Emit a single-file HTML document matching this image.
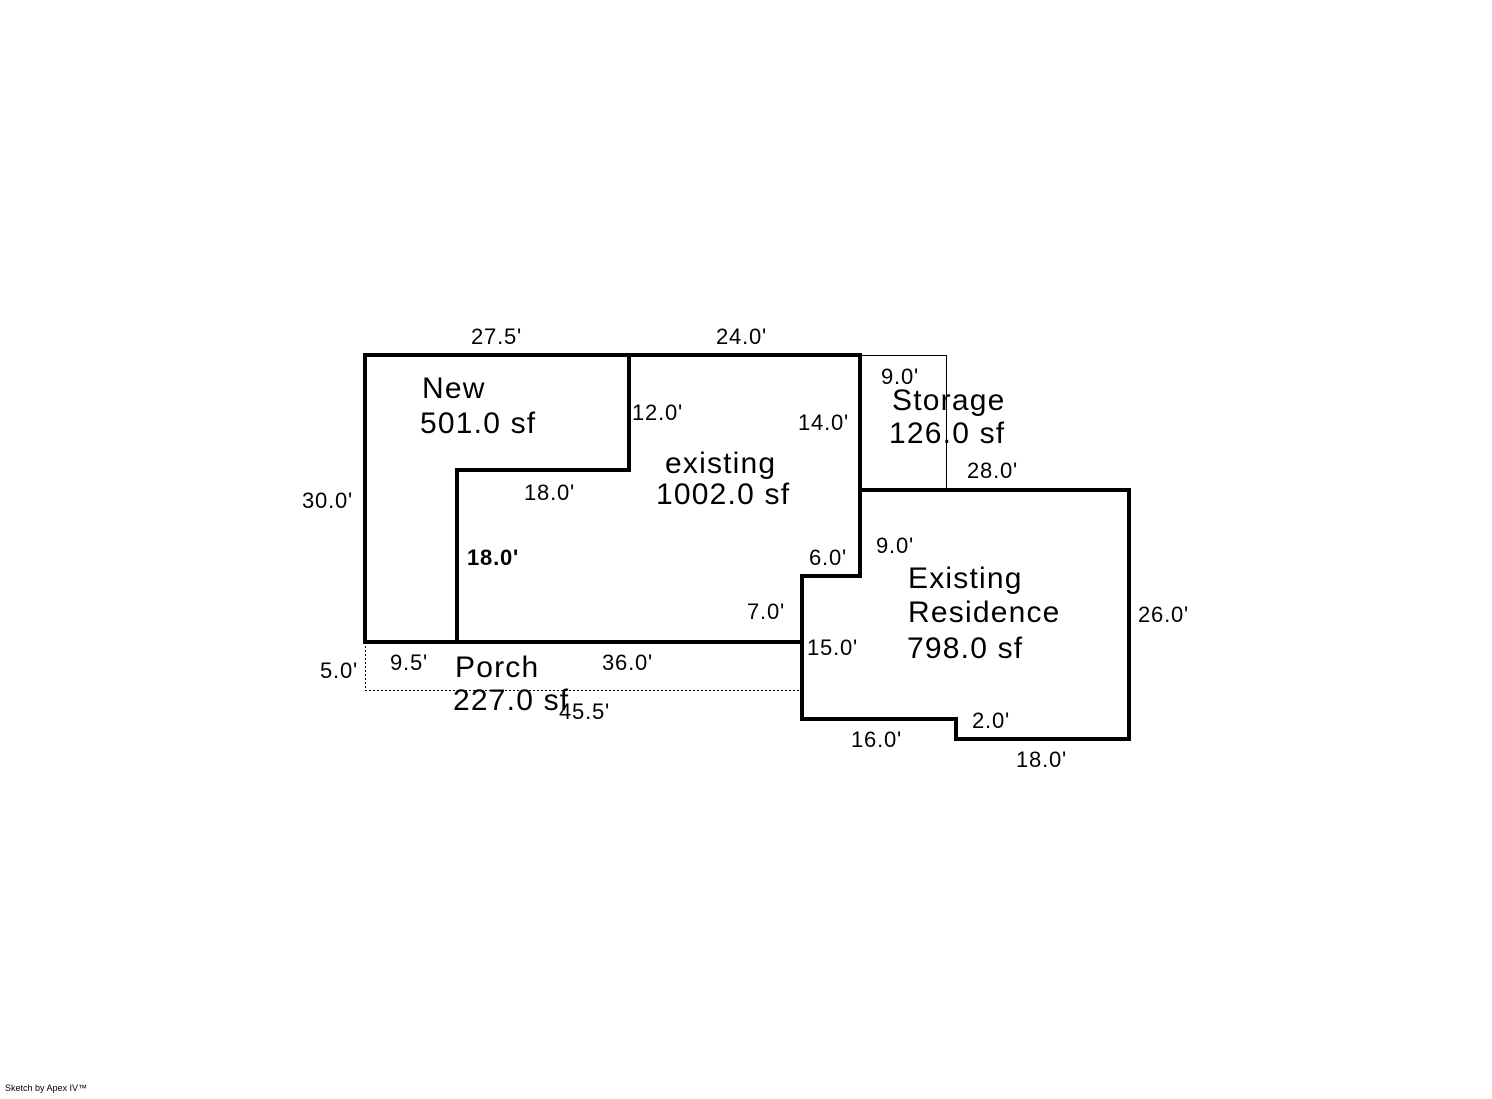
<!DOCTYPE html>
<html><head><style>
body{margin:0;background:#fff}
svg text{font-family:"Liberation Sans",sans-serif;fill:#000}
.s{font-size:22px;letter-spacing:0.8px}.b{font-size:30px;letter-spacing:1.2px}
</style></head><body>
<svg width="1492" height="1094" xmlns="http://www.w3.org/2000/svg">
<g fill="none" stroke="#000" shape-rendering="crispEdges">
<polyline points="365.5,642 365.5,690.5 802,690.5" stroke-width="1" stroke-dasharray="2,2"/>
<polyline points="860,355.5 946.5,355.5 946.5,490" stroke-width="1"/>
<g stroke-width="4" stroke-linejoin="miter">
<polygon points="365,355 860,355 860,576 802,576 802,642 365,642"/>
<polyline points="457,642 457,470 629,470 629,355"/>
<polygon points="860,490 1129,490 1129,739 956,739 956,719 802,719 802,576 860,576"/>
</g>
</g>
<text class="s" x="471" y="344">27.5'</text>
<text class="s" x="716" y="344">24.0'</text>
<text class="s" x="302" y="508">30.0'</text>
<text class="s" x="632" y="420">12.0'</text>
<text class="s" x="798" y="430">14.0'</text>
<text class="s" x="524" y="500">18.0'</text>
<text class="s" x="467" y="565" font-weight="bold">18.0'</text>
<text class="s" x="809" y="565">6.0'</text>
<text class="s" x="747" y="619">7.0'</text>
<text class="s" x="807" y="655">15.0'</text>
<text class="s" x="320" y="678">5.0'</text>
<text class="s" x="390" y="670">9.5'</text>
<text class="s" x="602" y="670">36.0'</text>
<text class="s" x="559" y="719">45.5'</text>
<text class="s" x="881" y="384">9.0'</text>
<text class="s" x="967" y="478">28.0'</text>
<text class="s" x="876" y="553">9.0'</text>
<text class="s" x="1138" y="622">26.0'</text>
<text class="s" x="972" y="728">2.0'</text>
<text class="s" x="851" y="747">16.0'</text>
<text class="s" x="1016" y="767">18.0'</text>
<text class="b" x="422" y="398">New</text>
<text class="b" x="420" y="433">501.0 sf</text>
<text class="b" x="665" y="473">existing</text>
<text class="b" x="656" y="504">1002.0 sf</text>
<text class="b" x="892" y="410">Storage</text>
<text class="b" x="889" y="443">126.0 sf</text>
<text class="b" x="908" y="588">Existing</text>
<text class="b" x="908" y="622">Residence</text>
<text class="b" x="907" y="658">798.0 sf</text>
<text class="b" x="455" y="677">Porch</text>
<text class="b" x="453" y="710">227.0 sf</text>
<text x="5" y="1091" font-size="9">Sketch by Apex IV™</text>
</svg>
</body></html>
